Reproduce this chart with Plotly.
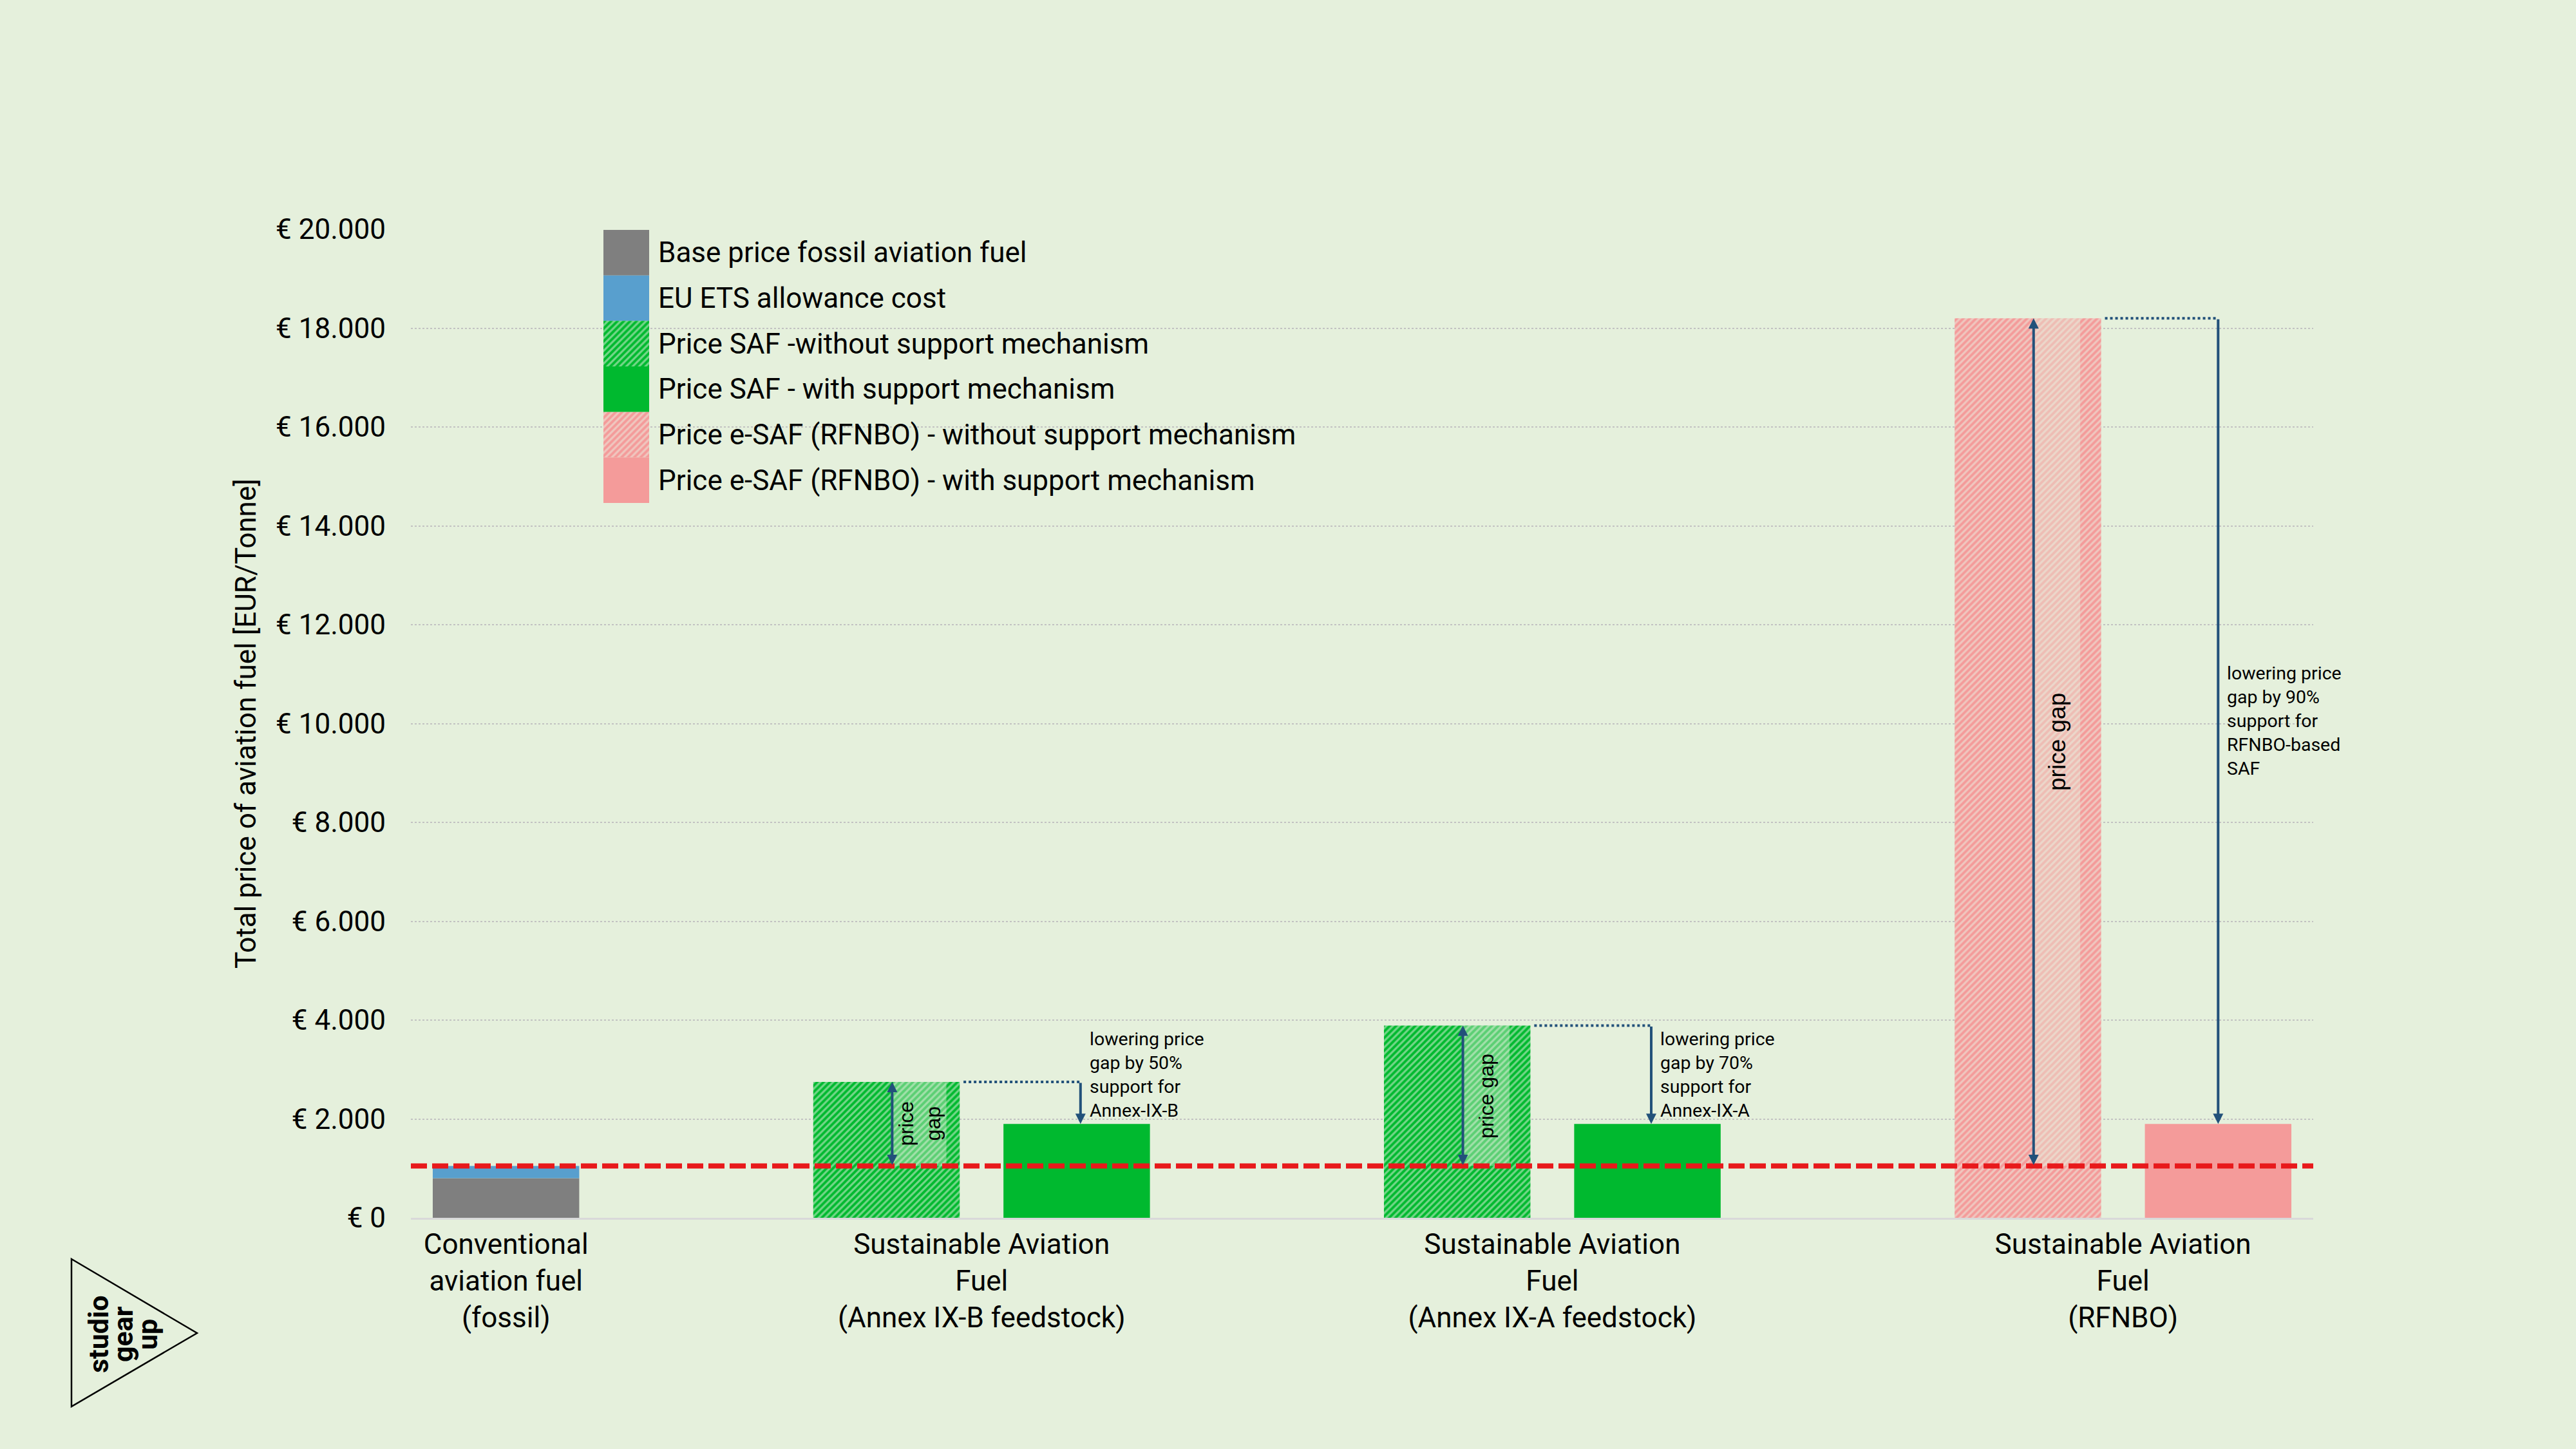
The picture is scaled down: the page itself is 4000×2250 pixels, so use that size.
import plotly.graph_objects as go

# ---------------- data ----------------
category_labels = [
    "Conventional<br>aviation fuel<br>(fossil)",
    "Sustainable Aviation<br>Fuel<br>(Annex IX-B feedstock)",
    "Sustainable Aviation<br>Fuel<br>(Annex IX-A feedstock)",
    "Sustainable Aviation<br>Fuel<br>(RFNBO)",
]
legend_labels = [
    "Base price fossil aviation fuel",
    "EU ETS allowance cost",
    "Price SAF -without support mechanism",
    "Price SAF - with support mechanism",
    "Price e-SAF (RFNBO) - without support mechanism",
    "Price e-SAF (RFNBO) - with support mechanism",
]
fossil_base_price = [800]
eu_ets_cost = [250]
saf_price_without_support = [2750, 3890]      # Annex IX-B, Annex IX-A
saf_price_with_support = [1900, 1900]
esaf_price_without_support = [18200]          # RFNBO
esaf_price_with_support = [1900]
support_notes = [
    "lowering price<br>gap by 50%<br>support for<br>Annex-IX-B",
    "lowering price<br>gap by 70%<br>support for<br>Annex-IX-A",
    "lowering price<br>gap by 90%<br>support for<br>RFNBO-based<br>SAF",
]
gap_labels = ["price<br>gap", "price gap", "price gap"]
y_tick_values = [0, 2000, 4000, 6000, 8000, 10000, 12000, 14000, 16000, 18000, 20000]
y_tick_labels = ["€ 0", "€ 2.000", "€ 4.000", "€ 6.000", "€ 8.000", "€ 10.000",
                 "€ 12.000", "€ 14.000", "€ 16.000", "€ 18.000", "€ 20.000"]
y_title = "Total price of aviation fuel [EUR/Tonne]"
logo_words = ["studio", "gear", "up"]

# ---------------- styles ----------------
BG = "#E5F0DC"
GREY = "#7F7F7F"
BLUE = "#589FCE"
GREEN = "#00B92F"
PINK = "#F49B9A"
NAVY = "#22517A"
RED = "#E8191B"
STRIPE = "#EAF3E4"
FONT = "Roboto"
BAR_W = 0.77

W, H = 4000, 2250
L, R, T, B = 638, 408, 356, 359
PW, PH = W - L - R, H - T - B


def px_x(px):
    return (px - L) / PW


def px_y(py):
    return (H - B - py) / PH


# slot layout: conventional in slot 0, each SAF group takes two slots after a gap
conv_x = [0]
n_groups = 3
without_x = [2 + 3 * g for g in range(n_groups)]
with_x = [3 + 3 * g for g in range(n_groups)]
without_vals = saf_price_without_support + esaf_price_without_support
with_vals = saf_price_with_support + esaf_price_with_support
ref_price = fossil_base_price[0] + eu_ets_cost[0]


def hatch(color):
    return dict(shape="/", fillmode="overlay", bgcolor=color, fgcolor=STRIPE, size=7, solidity=0.45)


fig = go.Figure()
fig.add_bar(x=conv_x, y=fossil_base_price, width=BAR_W,
            marker=dict(color=GREY, line_width=0), name=legend_labels[0])
fig.add_bar(x=conv_x, y=eu_ets_cost, base=fossil_base_price, width=BAR_W,
            marker=dict(color=BLUE, line_width=0), name=legend_labels[1])
fig.add_bar(x=without_x[:2], y=saf_price_without_support, width=BAR_W,
            marker=dict(color=GREEN, line_width=0, pattern=hatch(GREEN)), name=legend_labels[2])
fig.add_bar(x=with_x[:2], y=saf_price_with_support, width=BAR_W,
            marker=dict(color=GREEN, line_width=0), name=legend_labels[3])
fig.add_bar(x=without_x[2:], y=esaf_price_without_support, width=BAR_W,
            marker=dict(color=PINK, line_width=0, pattern=hatch(PINK)), name=legend_labels[4])
fig.add_bar(x=with_x[2:], y=esaf_price_with_support, width=BAR_W,
            marker=dict(color=PINK, line_width=0), name=legend_labels[5])

# custom legend swatches (large squares), one bar per legend entry on a hidden subplot
n_leg = len(legend_labels)
sw_colors = [GREY, BLUE, GREEN, GREEN, PINK, PINK]
sw_hatched = [False, False, True, False, True, False]
for i in range(n_leg):
    mk = dict(color=sw_colors[i], line_width=0)
    if sw_hatched[i]:
        mk["pattern"] = hatch(sw_colors[i])
    fig.add_bar(x=[0.5], y=[1], base=[n_leg - 1 - i], width=1,
                xaxis="x2", yaxis="y2", hoverinfo="skip", marker=mk)

shapes = []
annotations = []

gap_w = [0.28, 0.24, 0.24]
gap_font = [32, 32, 37]
arrow_dx = [0.02, 0.02, 0.0]
for g in range(n_groups):
    xw, xs = without_x[g], with_x[g]
    top, low = without_vals[g], with_vals[g]
    xa = xs + arrow_dx[g]
    # lighter box behind "price gap" label
    x0 = xw + 0.035
    x1 = x0 + gap_w[g]
    shapes.append(dict(type="rect", xref="x", yref="y", x0=x0, x1=x1, y0=ref_price, y1=top,
                       fillcolor="rgba(229,240,220,0.40)", line_width=0, layer="above"))
    # dotted connector
    shapes.append(dict(type="line", xref="x", yref="y", x0=xw + BAR_W / 2 + 0.02, x1=xa,
                       y0=top, y1=top, line=dict(color=NAVY, width=4, dash="dot"), layer="above"))
    # double arrow price gap
    annotations.append(dict(x=xw + 0.03, y=top, ax=xw + 0.03, ay=ref_price, xref="x", yref="y",
                            axref="x", ayref="y", text="", showarrow=True, arrowside="end+start",
                            arrowhead=2, startarrowhead=2, arrowsize=0.8, startarrowsize=0.8,
                            arrowwidth=4, arrowcolor=NAVY, standoff=0, startstandoff=0))
    # support arrow
    annotations.append(dict(x=xa, y=low, ax=xa, ay=top, xref="x", yref="y",
                            axref="x", ayref="y", text="", showarrow=True, arrowside="end",
                            arrowhead=2, arrowsize=0.8, arrowwidth=4, arrowcolor=NAVY,
                            standoff=0))
    # price gap label
    annotations.append(dict(x=(x0 + x1) / 2, y=(ref_price + top) / 2, xref="x", yref="y",
                            text=gap_labels[g], showarrow=False, textangle=-90,
                            font=dict(family="Liberation Sans", size=gap_font[g], color="#000000"),
                            xanchor="center", yanchor="middle", align="center"))
    # support note
    if g == n_groups - 1:
        note_y, note_anchor, note_shift = (top + low) / 2, "middle", 0
    else:
        note_y, note_anchor, note_shift = low, "bottom", 2
    annotations.append(dict(x=xa, y=note_y, xref="x", yref="y", xshift=12, yshift=note_shift,
                            text=support_notes[g], showarrow=False, xanchor="left",
                            yanchor=note_anchor, align="left",
                            font=dict(family=FONT, size=28.5, color="#000000")))

# reference (fossil price) dashed line
shapes.append(dict(type="line", xref="paper", yref="y", x0=0, x1=1, y0=ref_price, y1=ref_price,
                   line=dict(color=RED, width=8, dash="25px,8px"), layer="above"))

# legend texts
for i, lab in enumerate(legend_labels):
    annotations.append(dict(x=1, y=n_leg - 1 - i + 0.5, xref="x2", yref="y2", xshift=12,
                            text=lab, showarrow=False, xanchor="left", yanchor="middle",
                            font=dict(family=FONT, size=44, color="#000000")))

# logo
shapes.append(dict(type="path", xref="paper", yref="paper",
                   path="M{},{} L{},{} L{},{} Z".format(px_x(111), px_y(1955), px_x(306), px_y(2070),
                                                       px_x(111), px_y(2184)),
                   line=dict(color="#000000", width=2.5), fillcolor="rgba(0,0,0,0)"))
for i, word in enumerate(logo_words):
    annotations.append(dict(x=px_x(153 + 38 * i), y=px_y(2072), xref="paper", yref="paper",
                            text="<b>" + word + "</b>", showarrow=False, textangle=-90,
                            xanchor="center", yanchor="middle",
                            font=dict(family=FONT, size=43, color="#000000")))

fig.update_layout(
    width=W, height=H,
    margin=dict(l=L, r=R, t=T, b=B, autoexpand=False),
    paper_bgcolor=BG, plot_bgcolor=BG,
    barmode="overlay", showlegend=False,
    font=dict(family=FONT, size=44, color="#000000"),
    shapes=shapes, annotations=annotations,
    xaxis=dict(range=[-0.5, 9.5], showgrid=False, zeroline=False,
               tickvals=[conv_x[0]] + [(without_x[g] + with_x[g]) / 2 for g in range(n_groups)],
               ticktext=category_labels, ticks="", tickfont=dict(size=44),
               showline=True, linecolor="#D9D9D9", linewidth=3, automargin=False,
               ticklabelstandoff=0),
    yaxis=dict(range=[0, 20000], tickvals=y_tick_values, ticktext=y_tick_labels,
               showgrid=True, gridcolor="#C2C2C2", griddash="dot", gridwidth=1.5,
               zeroline=False, ticks="", tickfont=dict(size=44), ticklabelstandoff=38,
               automargin=False,
               title=dict(text=y_title, font=dict(size=44), standoff=16)),
    xaxis2=dict(domain=[px_x(937), px_x(1008)], anchor="y2", range=[0, 1], visible=False,
                fixedrange=True),
    yaxis2=dict(domain=[px_y(781), px_y(357)], anchor="x2", range=[0, n_leg], visible=False,
                fixedrange=True),
)

fig.write_html(
    "out.html",
    config={"displayModeBar": False},
    post_script="document.body.style.margin='0';document.body.style.padding='0';"
                "document.body.style.background='" + BG + "';",
)
